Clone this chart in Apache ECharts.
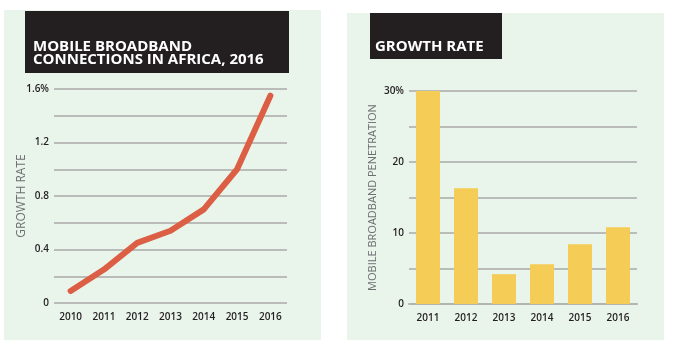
<!DOCTYPE html>
<html>
<head>
<meta charset="utf-8">
<script src="https://cdn.jsdelivr.net/npm/echarts@6/dist/echarts.min.js"></script>
<style>
  html, body { margin: 0; padding: 0; background: #ffffff; }
  #chart { width: 690px; height: 346px; }
</style>
</head>
<body>
<div id="chart"></div>
<script>
// Left panel: mobile broadband connections growth
const lineYears = ['2010', '2011', '2012', '2013', '2014', '2015', '2016'];
const lineValues = [0.09, 0.25, 0.45, 0.54, 0.70, 1.0, 1.55];
const lineTickLabels = ['0', '', '0.4', '', '0.8', '', '1.2', '', '1.6%'];

// Right panel: mobile broadband penetration growth rate
const barYears = ['2011', '2012', '2013', '2014', '2015', '2016'];
const barValues = [30.3, 16.3, 4.2, 5.6, 8.4, 10.8];
const barTickLabels = ['0', '', '10', '', '20', '', '30%'];

const FONT = '"Open Sans", "Noto Sans", sans-serif';
const PANEL_BG = '#e9f4eb';
const TITLE_BG = '#231f20';
const GRID_COLOR = '#a9aaa9';
const TICK_COLOR = '#231f20';
const NAME_COLOR = '#6d6e71';

const chart = echarts.init(document.getElementById('chart'), null, { renderer: 'canvas' });

const axisLabelStyle = { color: TICK_COLOR, fontFamily: FONT, fontSize: 10, fontWeight: 600 };

chart.setOption({
  animation: false,
  backgroundColor: '#ffffff',
  graphic: [
    { type: 'rect', z: -10, shape: { x: 4, y: 10, width: 317, height: 330 }, style: { fill: PANEL_BG } },
    { type: 'rect', z: -10, shape: { x: 347, y: 13, width: 317, height: 327 }, style: { fill: PANEL_BG } },
    { type: 'rect', z: -5, shape: { x: 25, y: 11, width: 264, height: 62 }, style: { fill: TITLE_BG } },
    { type: 'rect', z: -5, shape: { x: 370, y: 13, width: 132, height: 46 }, style: { fill: TITLE_BG } },
    {
      type: 'text', left: 33, top: 39,
      style: {
        text: 'MOBILE BROADBAND\nCONNECTIONS IN AFRICA, 2016',
        fill: '#ffffff', font: 'bold 15px ' + FONT, lineHeight: 13.5
      }
    },
    {
      type: 'text', left: 375, top: 39,
      style: { text: 'GROWTH RATE', fill: '#ffffff', font: 'bold 15px ' + FONT }
    }
  ],
  grid: [
    { left: 54, top: 89, width: 233, height: 214 },
    { left: 409, top: 91, width: 228, height: 213 }
  ],
  xAxis: [
    {
      type: 'category', gridIndex: 0, data: lineYears, boundaryGap: true,
      axisLine: { show: false }, axisTick: { show: false },
      axisLabel: Object.assign({ margin: 9 }, axisLabelStyle)
    },
    {
      type: 'category', gridIndex: 1, data: barYears, boundaryGap: true,
      axisLine: { show: true, lineStyle: { color: '#b3b5b3', width: 2 } }, axisTick: { show: false },
      axisLabel: Object.assign({ margin: 9 }, axisLabelStyle)
    }
  ],
  yAxis: [
    {
      type: 'value', gridIndex: 0, min: 0, max: 1.6, interval: 0.2,
      axisLine: { show: false }, axisTick: { show: false },
      splitLine: { lineStyle: { color: GRID_COLOR, width: 1.5 } },
      axisLabel: Object.assign({ margin: 5, formatter: (v, i) => lineTickLabels[i] }, axisLabelStyle),
      name: 'GROWTH RATE', nameLocation: 'middle', nameGap: 26, nameMoveOverlap: false,
      nameTextStyle: { color: NAME_COLOR, fontFamily: FONT, fontSize: 12 }
    },
    {
      type: 'value', gridIndex: 1, min: 0, max: 30, interval: 5,
      axisLine: { show: false }, axisTick: { show: false },
      splitLine: { lineStyle: { color: GRID_COLOR, width: 1.5 } },
      axisLabel: Object.assign({ margin: 5, formatter: (v, i) => barTickLabels[i] }, axisLabelStyle),
      name: 'MOBILE BROADBAND PENETRATION', nameLocation: 'middle', nameGap: 31,
      nameTextStyle: { color: NAME_COLOR, fontFamily: FONT, fontSize: 11 }
    }
  ],
  series: [
    {
      type: 'line', xAxisIndex: 0, yAxisIndex: 0, data: lineValues,
      symbol: 'none', smooth: false,
      lineStyle: { color: '#dc5f45', width: 6, cap: 'round', join: 'round' }
    },
    {
      type: 'bar', xAxisIndex: 1, yAxisIndex: 1, data: barValues,
      barWidth: 24, itemStyle: { color: '#f5cc55' }
    }
  ]
});
</script>
</body>
</html>
